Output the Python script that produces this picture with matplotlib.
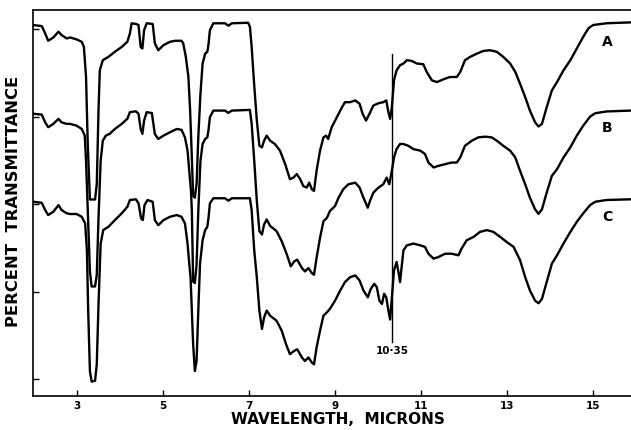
import matplotlib
matplotlib.use("Agg")
import matplotlib.pyplot as plt

# IR spectra A, B, C - percent transmittance (each curve 0-100)
wl_a = [1.98, 2.18, 2.26, 2.33, 2.45, 2.57, 2.64, 2.76, 2.84, 2.99, 3.11, 3.16, 3.21, 3.25, 3.30,
        3.42, 3.46, 3.50, 3.53, 3.60, 3.73, 3.88, 4.04, 4.17, 4.23, 4.27, 4.37, 4.43, 4.48, 4.52,
        4.56, 4.62, 4.76, 4.81, 4.89, 5.01, 5.16, 5.28, 5.43, 5.47, 5.53, 5.59, 5.63, 5.67, 5.70,
        5.74, 5.78, 5.82, 5.87, 5.92, 5.98, 6.03, 6.06, 6.09, 6.17, 6.44, 6.52, 6.60, 6.98, 7.02,
        7.06, 7.12, 7.18, 7.24, 7.30, 7.35, 7.41, 7.49, 7.60, 7.72, 7.84, 7.95, 8.03, 8.11, 8.19,
        8.26, 8.34, 8.40, 8.46, 8.51, 8.57, 8.65, 8.73, 8.79, 8.84, 8.92, 9.04, 9.16, 9.23, 9.35,
        9.47, 9.57, 9.64, 9.72, 9.80, 9.89, 10.01, 10.12, 10.19, 10.24, 10.28, 10.32, 10.37, 10.43,
        10.51, 10.59, 10.67, 10.78, 10.90, 11.05, 11.13, 11.25, 11.37, 11.52, 11.67, 11.83, 11.91,
        12.02, 12.14, 12.30, 12.45, 12.60, 12.76, 12.91, 13.07, 13.19, 13.30, 13.42, 13.53, 13.65,
        13.73, 13.81, 13.92, 14.04, 14.16, 14.31, 14.47, 14.62, 14.77, 14.89, 15.00, 15.31, 15.86]
t_a = [102.3, 101.7, 97.5, 93.3, 95.2, 98.5, 96.6, 94.6, 95.2, 94.1, 92.7, 89.8, 72.6, 34.3, 2.6,
       2.6, 11.5, 53.4, 76.4, 82.2, 84.1, 87.0, 89.8, 92.7, 97.5, 103.3, 102.9, 102.3, 89.8, 88.9,
       99.4, 103.3, 102.9, 91.8, 87.9, 90.8, 92.7, 93.3, 93.3, 91.8, 84.1, 72.6, 53.4, 26.6, 4.6,
       3.6, 11.5, 38.1, 63.0, 80.3, 86.0, 87.0, 91.8, 99.4, 103.3, 103.3, 101.9, 103.3, 103.6, 101.3,
       90.0, 68.0, 48.0, 33.3, 32.4, 36.2, 39.1, 36.2, 34.3, 30.5, 22.8, 14.2, 15.1, 17.1, 14.2,
       10.3, 9.4, 12.2, 8.4, 7.5, 19.0, 30.5, 38.1, 39.1, 37.2, 43.8, 49.6, 55.3, 58.2, 58.2,
       59.2, 57.3, 51.6, 47.7, 51.6, 56.3, 57.6, 58.2, 59.2, 52.5, 48.7, 55.3, 70.7, 76.4,
       79.3, 80.3, 82.2, 81.8, 80.3, 79.9, 75.5, 70.7, 69.7, 71.3, 72.6, 72.6, 75.5,
       82.2, 84.1, 86.0, 87.5, 87.9, 87.0, 84.1, 80.3, 75.5, 68.8, 61.1, 53.4, 46.7,
       44.3, 45.8, 55.3, 64.9, 69.7, 76.4, 82.2, 88.9, 95.6, 100.4, 102.3, 103.3, 103.8]

wl_b = [1.98, 2.18, 2.26, 2.33, 2.45, 2.57, 2.64, 2.76, 2.84, 2.99, 3.11, 3.18, 3.21, 3.25, 3.30,
        3.34, 3.42, 3.46, 3.50, 3.55, 3.60, 3.67, 3.76, 3.88, 4.04, 4.17, 4.23, 4.37, 4.43, 4.48,
        4.52, 4.56, 4.62, 4.74, 4.81, 4.89, 5.01, 5.16, 5.32, 5.43, 5.51, 5.57, 5.61, 5.65, 5.67,
        5.70, 5.74, 5.78, 5.82, 5.87, 5.92, 5.98, 6.03, 6.06, 6.09, 6.17, 6.44, 6.52, 6.60, 7.02,
        7.06, 7.12, 7.18, 7.24, 7.30, 7.35, 7.41, 7.49, 7.64, 7.76, 7.88, 7.97, 8.05, 8.12, 8.23,
        8.30, 8.38, 8.46, 8.51, 8.57, 8.65, 8.73, 8.81, 8.88, 9.00, 9.08, 9.19, 9.31, 9.47, 9.57,
        9.66, 9.76, 9.81, 9.89, 10.01, 10.12, 10.20, 10.26, 10.32, 10.37, 10.43, 10.51, 10.59,
        10.70, 10.82, 10.98, 11.09, 11.17, 11.29, 11.40, 11.56, 11.71, 11.83, 11.91, 12.02, 12.18,
        12.33, 12.49, 12.64, 12.76, 12.91, 13.07, 13.19, 13.30, 13.42, 13.53, 13.65, 13.73, 13.81,
        13.92, 14.04, 14.16, 14.31, 14.47, 14.62, 14.77, 14.93, 15.05, 15.31, 15.86]
t_b = [101.6, 101.1, 96.7, 93.9, 95.8, 98.7, 96.7, 95.8, 95.8, 94.8, 92.9, 89.1, 74.7, 46.0, 11.5,
       2.9, 2.9, 9.6, 42.1, 74.7, 86.2, 89.1, 90.1, 92.9, 95.8, 98.7, 102.5, 103.0, 101.6, 92.9,
       90.1, 97.7, 102.5, 102.0, 90.0, 87.2, 89.1, 91.0, 92.9, 92.4, 88.1, 80.5, 69.0, 57.5, 46.0,
       5.7, 4.8, 15.3, 46.0, 74.7, 84.3, 87.2, 88.1, 92.9, 99.6, 103.4, 103.4, 102.1, 103.4, 103.8,
       96.0, 75.0, 52.0, 34.5, 32.6, 38.3, 41.2, 37.5, 34.5, 28.7, 21.1, 14.4, 17.2, 18.2, 13.4,
       11.5, 13.4, 10.5, 9.6, 19.2, 30.7, 40.2, 42.1, 46.0, 48.9, 53.6, 58.4, 61.3, 62.2, 59.4,
       53.6, 47.9, 51.7, 56.5, 59.4, 61.3, 65.1, 61.3, 69.0, 76.6, 81.4, 84.3, 84.3,
       83.3, 81.4, 80.5, 78.6, 73.7, 70.9, 71.8, 72.8, 73.7, 73.7, 76.6, 83.3, 86.2,
       88.1, 88.5, 88.1, 86.2, 83.3, 80.5, 76.6, 69.0, 61.3, 53.6, 47.0, 44.4, 47.0,
       56.5, 66.1, 69.9, 76.6, 82.4, 89.1, 94.8, 100.0, 101.9, 102.9, 103.4]

wl_c = [1.98, 2.18, 2.26, 2.33, 2.45, 2.57, 2.64, 2.76, 2.84, 2.99, 3.11, 3.19, 3.23, 3.26, 3.30,
        3.34, 3.42, 3.46, 3.50, 3.55, 3.61, 3.73, 3.88, 4.04, 4.17, 4.23, 4.37, 4.43, 4.49, 4.53,
        4.57, 4.64, 4.76, 4.81, 4.89, 5.01, 5.16, 5.32, 5.43, 5.51, 5.57, 5.61, 5.64, 5.67, 5.70,
        5.74, 5.78, 5.82, 5.86, 5.92, 5.98, 6.03, 6.06, 6.09, 6.17, 6.44, 6.52, 6.60, 7.02, 7.06,
        7.12, 7.18, 7.24, 7.30, 7.35, 7.41, 7.49, 7.64, 7.76, 7.86, 7.95, 8.05, 8.12, 8.23, 8.30,
        8.38, 8.46, 8.51, 8.57, 8.65, 8.73, 8.81, 8.88, 9.00, 9.12, 9.23, 9.35, 9.47, 9.57, 9.66,
        9.76, 9.83, 9.91, 9.97, 10.03, 10.09, 10.14, 10.19, 10.24, 10.28, 10.32, 10.37, 10.43,
        10.48, 10.51, 10.59, 10.67, 10.82, 10.98, 11.09, 11.17, 11.29, 11.40, 11.56, 11.71, 11.87,
        11.94, 12.06, 12.22, 12.37, 12.53, 12.68, 12.84, 12.99, 13.15, 13.30, 13.42, 13.53, 13.65,
        13.73, 13.81, 13.92, 14.04, 14.16, 14.31, 14.47, 14.62, 14.77, 14.93, 15.05, 15.31, 15.86]
t_c = [101.3, 100.7, 96.6, 93.7, 95.6, 99.4, 96.6, 94.7, 94.3, 94.3, 92.7, 88.9, 73.6, 39.1, 4.6,
       -1.5, -1.0, 8.5, 42.9, 77.4, 85.1, 87.0, 90.8, 94.7, 98.4, 102.3, 102.7, 100.4, 91.8, 90.8,
       99.4, 102.3, 101.3, 90.8, 87.9, 90.8, 92.7, 93.7, 92.7, 88.9, 77.4, 65.9, 58.2, 39.1, 19.9,
       4.6, 10.3, 39.1, 65.9, 79.3, 85.1, 87.0, 92.7, 100.4, 103.3, 103.3, 101.9, 103.3, 103.3, 96.6,
       73.6, 58.2, 39.1, 28.6, 35.2, 39.1, 36.2, 33.3, 27.6, 19.9, 14.2, 16.1, 17.0, 12.3, 10.3,
       12.3, 9.4, 8.4, 18.0, 27.6, 36.2, 38.1, 40.1, 44.8, 50.6, 55.4, 58.2, 59.2, 56.3, 50.6,
       46.7, 51.5, 54.4, 52.5, 44.8, 42.9, 48.7, 46.7, 39.1, 34.0, 46.7, 62.1, 66.9,
       60.2, 55.4, 73.6, 76.4, 77.4, 76.4, 75.5, 71.6, 68.8, 69.7, 71.6, 71.6, 70.7,
       74.5, 79.3, 81.2, 84.1, 85.1, 84.1, 81.2, 78.3, 75.5, 68.0, 58.2, 50.6, 44.8,
       43.3, 45.8, 55.4, 65.9, 70.7, 77.4, 84.1, 89.8, 94.7, 99.4, 101.3, 102.3, 102.7]

labels = ["A", "B", "C"]
offsets = [100, 50, 0]
xticks = [3, 5, 7, 9, 11, 13, 15]
marker_wl = 10.32
marker_text = "10·35"

fig = plt.figure(figsize=(6.31, 4.30), dpi=100)
ax = fig.add_axes([0.0523, 0.0791, 0.9477, 0.8977])

for wl, t, off in zip([wl_a, wl_b, wl_c], [t_a, t_b, t_c], offsets):
    ax.plot(wl, [v + off for v in t], color="black", lw=1.7, solid_joinstyle="round")

# reference line at 10.35 microns
ax.plot([marker_wl, marker_wl], [21, 186], color="black", lw=1.0)
ax.text(marker_wl, 19, marker_text, ha="center", va="top", fontsize=7.5, fontweight="bold")

for lab, y in zip(labels, [192.6, 143.4, 92.6]):
    ax.text(15.33, y, lab, ha="center", va="center", fontsize=10, fontweight="bold")

ax.set_xlim(1.977, 15.88)
ax.set_ylim(-9.7, 210.9)
ax.set_xticks(xticks)
ax.set_xticklabels([str(v) for v in xticks], fontsize=7.5, fontweight="bold")
ax.set_yticks([0, 50, 100, 150, 200])
ax.set_yticklabels([])
ax.tick_params(direction="in", length=4, width=1)
ax.spines["right"].set_visible(False)
for s in ["left", "bottom", "top"]:
    ax.spines[s].set_linewidth(1.2)

fig.text(338 / 631, 1 - 420 / 430, "WAVELENGTH,  MICRONS", ha="center", va="center",
         fontsize=11, fontweight="bold")
fig.text(14 / 631, 1 - 201 / 430, "PERCENT  TRANSMITTANCE", ha="center", va="center",
         rotation=90, fontsize=11.8, fontweight="bold")

fig.savefig("out.png", dpi=100)
